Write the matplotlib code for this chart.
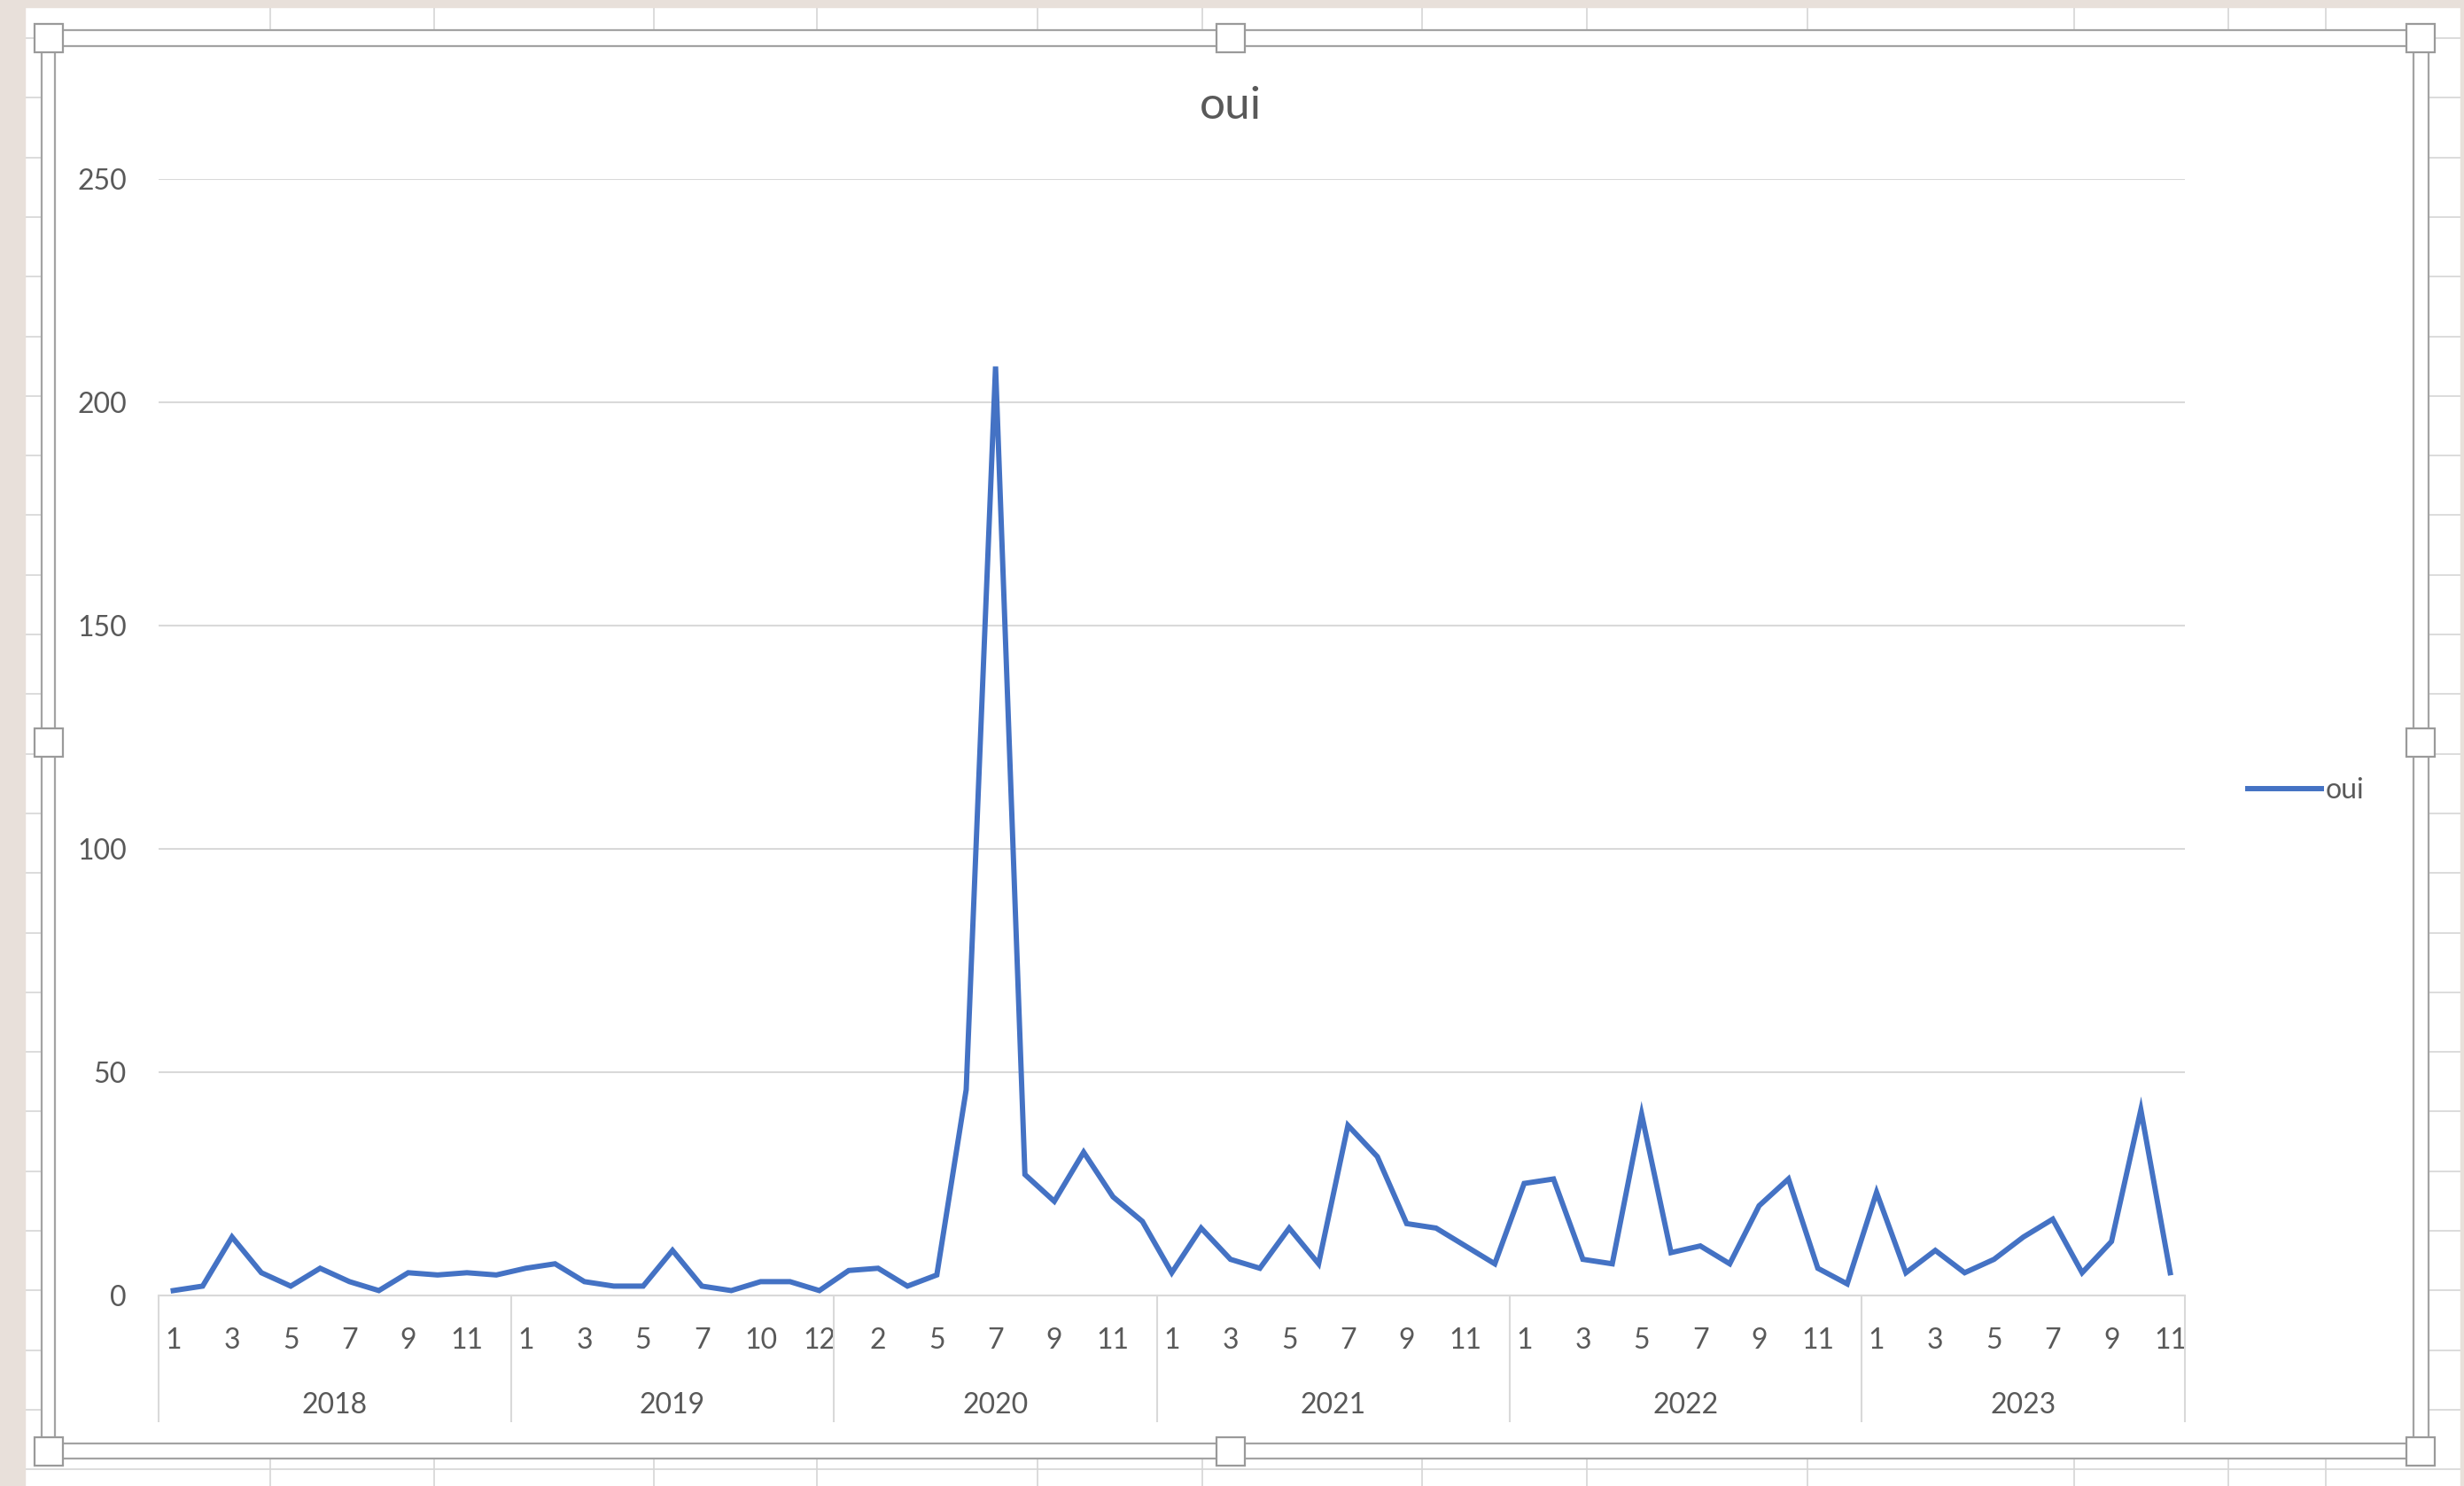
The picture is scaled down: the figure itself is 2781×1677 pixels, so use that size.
import matplotlib.pyplot as plt
import numpy as np
from matplotlib.lines import Line2D
from matplotlib.patches import Rectangle

plt.rcParams['font.family'] = ['Lato', 'DejaVu Sans']

# Données : une valeur par mois présent dans la feuille
years = ['2018', '2019', '2020', '2021', '2022', '2023']
months_2018 = [1, 2, 3, 4, 5, 6, 7, 8, 9, 10, 11, 12]
months_2019 = [1, 2, 3, 4, 5, 6, 7, 9, 10, 11, 12]
months_2020 = [1, 2, 4, 5, 6, 7, 8, 9, 10, 11, 12]
months_2021 = [1, 2, 3, 4, 5, 6, 7, 8, 9, 10, 11, 12]
months_2022 = [1, 2, 3, 4, 5, 6, 7, 8, 9, 10, 11, 12]
months_2023 = [1, 2, 3, 4, 5, 6, 7, 8, 9, 10, 11]

oui_2018 = [1, 2, 13, 5, 2, 6, 3, 1, 5, 4.5, 5, 4.5]
oui_2019 = [6, 7, 3, 2, 2, 10, 2, 1, 3, 3, 1]
oui_2020 = [5.5, 6, 2, 4.5, 46, 208, 27, 21, 32, 22, 16.5]
oui_2021 = [5, 15, 8, 6, 15, 7, 38, 31, 16, 15, 11, 7]
oui_2022 = [25, 26, 8, 7, 40.5, 9.5, 11, 7, 20, 26, 6, 2.5]
oui_2023 = [23, 5, 10, 5, 8, 13, 17, 5, 12, 41.5, 5]

month_groups = [months_2018, months_2019, months_2020, months_2021, months_2022, months_2023]
value_groups = [oui_2018, oui_2019, oui_2020, oui_2021, oui_2022, oui_2023]

months = [m for g in month_groups for m in g]
values = [v for g in value_groups for v in g]
x = np.arange(len(values))

W, H = 2781, 1677
fig = plt.figure(figsize=(W / 100, H / 100), dpi=100)
fig.patch.set_facecolor('white')


def fx(px):
    return px / W


def fy(py):
    return 1 - py / H


# --- décor de la feuille Excel autour du graphique ---
beige = '#E8E0DA'
cell = '#D6D6D6'
for xx in [305, 490, 738, 922, 1171, 1357, 1605, 1791, 2040, 2341, 2515, 2625]:
    fig.add_artist(Line2D([fx(xx), fx(xx)], [0, 1], color=cell, lw=1.2, zorder=0))
for yy in np.arange(43, H, 67.3):
    fig.add_artist(Line2D([0, 1], [fy(yy), fy(yy)], color=cell, lw=1.2, zorder=0))
fig.add_artist(Rectangle((0, 0), fx(28), 1, color=beige, zorder=1))
fig.add_artist(Rectangle((0, fy(8)), 1, 1, color=beige, zorder=1))
fig.add_artist(Rectangle((fx(2777), 0), 1, 1, color=beige, zorder=1))
fig.add_artist(Rectangle((fx(47), fy(1646)), fx(2741 - 47), (1646 - 34) / H,
                         facecolor='white', edgecolor='none', zorder=2))

# cadre double de sélection
frame = '#A3A3A3'
for l, t, r, b in [(47, 34, 2741, 1646), (62, 52, 2724, 1629)]:
    fig.add_artist(Line2D([fx(l), fx(r), fx(r), fx(l), fx(l)],
                          [fy(t), fy(t), fy(b), fy(b), fy(t)],
                          color=frame, lw=1.6, zorder=3))
for hx, hy in [(55, 43), (1389, 43), (2732, 43), (55, 838), (2732, 838),
               (55, 1638), (1389, 1638), (2732, 1638)]:
    fig.add_artist(Rectangle((fx(hx - 16), fy(hy + 16)), 32 / W, 32 / H,
                             facecolor='white', edgecolor='#9A9A9A', lw=1.6, zorder=4))

# --- graphique ---
left, right, top, bottom = 179, 2466, 202, 1461.5
ax = fig.add_axes([fx(left), fy(bottom), fx(right - left), (bottom - top) / H])
ax.set_zorder(5)
ax.patch.set_alpha(0)

ax.plot(x, values, color='#4472C4', lw=4.3, solid_joinstyle='miter', label='oui', zorder=3)

ax.set_xlim(-0.5, len(values) - 0.5)
ax.set_ylim(0, 250)
ax.set_yticks([0, 50, 100, 150, 200, 250])
ax.grid(axis='y', color='#D9D9D9', lw=1.5)
ax.set_axisbelow(True)
for s in ['top', 'right', 'left']:
    ax.spines[s].set_visible(False)
ax.spines['bottom'].set_color('#D9D9D9')
ax.spines['bottom'].set_linewidth(1.5)

ax.set_xticks(x[::2])
ax.set_xticklabels([str(m) for m in months[::2]])
ax.tick_params(axis='both', length=0, labelsize=23, labelcolor='#595959')
ax.tick_params(axis='x', pad=26.5)
ax.tick_params(axis='y', pad=26)

# niveau des années
trans = ax.get_xaxis_transform()
edges = np.cumsum([0] + [len(g) for g in month_groups]) - 0.5
ax.vlines(edges, 0, -0.114, transform=trans, color='#D9D9D9', lw=1.5, clip_on=False)
for i, yr in enumerate(years):
    ax.text((edges[i] + edges[i + 1]) / 2, -0.099, yr, transform=trans,
            ha='center', va='center', fontsize=23, color='#595959')

fig.text(fx(1389), fy(120), 'oui', ha='center', va='center', fontsize=37,
         color='#595959', zorder=6)
fig.legend(loc='center left', bbox_to_anchor=(fx(2521), fy(892)), frameon=False,
           fontsize=23, handlelength=2.6, handletextpad=0.15, borderpad=0,
           labelcolor='#595959')

fig.savefig('out.png', dpi=100)
